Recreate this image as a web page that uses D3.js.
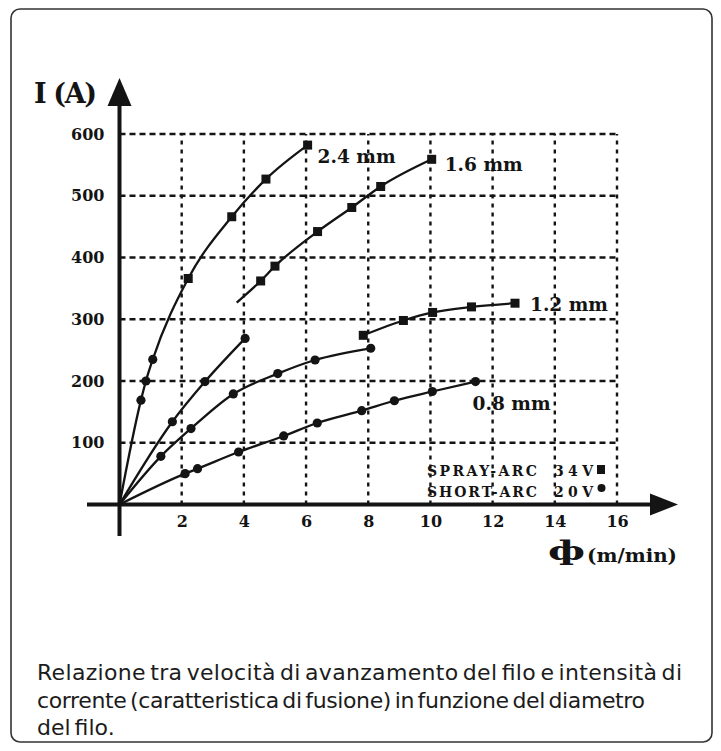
<!DOCTYPE html>
<html><head><meta charset="utf-8">
<script src="https://cdn.jsdelivr.net/npm/d3@7"></script>
<style>
html,body{margin:0;padding:0;background:#fff;}
svg{display:block;}
</style></head><body>
<svg id="chart" width="721" height="751"></svg>
<script>
// ---- data ----
const xTicks = [2, 4, 6, 8, 10, 12, 14, 16];
const yTicks = [100, 200, 300, 400, 500, 600];
const diameters = ["2.4 mm", "1.6 mm", "1.2 mm", "0.8 mm"];

// SHORT-ARC 20V (circles) and SPRAY-ARC 34V (squares), x = wire speed (m/min), y = current (A)
const short24X = [0.69, 0.85, 1.07];
const short24Y = [169, 200, 235];
const spray24X = [2.21, 3.61, 4.71, 6.05];
const spray24Y = [366, 466, 527, 582];

const short16X = [1.70, 2.75, 4.04];
const short16Y = [134, 199, 269];
const spray16StartX = 3.77, spray16StartY = 327;
const spray16X = [4.54, 5.00, 6.37, 7.47, 8.40, 10.04];
const spray16Y = [362, 386, 442, 481, 515, 559];

const short12X = [1.33, 2.30, 3.66, 5.09, 6.29, 8.08];
const short12Y = [78, 123, 179, 212, 234, 253];
const spray12X = [7.84, 9.13, 10.07, 11.32, 12.72];
const spray12Y = [274, 298, 311, 320, 326];

const short08X = [2.11, 2.51, 3.83, 5.28, 6.36, 7.79, 8.84, 10.06, 11.45];
const short08Y = [50, 58, 85, 111, 132, 152, 168, 183, 199];

const legendNames = ["SPRAY-ARC", "SHORT-ARC"];
const legendVolts = ["34V", "20V"];
const captionLines = [
  "Relazione tra velocità di avanzamento del filo e intensità di",
  "corrente (caratteristica di fusione) in funzione del diametro",
  "del filo."
];

// ---- helpers ----
const zip = (xs, ys) => xs.map((v, i) => [v, ys[i]]);
const origin = [[0, 0]];

const svg = d3.select("#chart");
const ink = "#141414";
const serif = "'DejaVu Serif', serif";

// frame
svg.append("rect").attr("x", 11).attr("y", 9).attr("width", 701).attr("height", 733)
  .attr("rx", 9).attr("ry", 9).attr("fill", "none").attr("stroke", "#333").attr("stroke-width", 1.6);

const x = d3.scaleLinear().domain([0, 16]).range([119.5, 617]);
const y = d3.scaleLinear().domain([0, 600]).range([504.5, 134]);

// grid
const grid = svg.append("g");
grid.selectAll("line.h").data(yTicks).join("line").attr("class", "h")
  .attr("x1", x(0)).attr("x2", x(16)).attr("y1", d => y(d)).attr("y2", d => y(d))
  .attr("stroke", ink).attr("stroke-width", 2.4).attr("stroke-dasharray", "6,4");
grid.selectAll("line.v").data(xTicks).join("line").attr("class", "v")
  .attr("x1", d => x(d)).attr("x2", d => x(d)).attr("y1", y(0)).attr("y2", y(600))
  .attr("stroke", ink).attr("stroke-width", 2.4).attr("stroke-dasharray", "4,5");

// axes lines + arrows
const x0 = x(0), y0 = y(0);
svg.append("line").attr("x1", x0).attr("x2", x0).attr("y1", 104).attr("y2", 536)
  .attr("stroke", ink).attr("stroke-width", 4);
svg.append("path").attr("d", `M${x0 - 12},106 L${x0 + 12},106 L${x0},78 Z`).attr("fill", ink);
svg.append("line").attr("x1", 87).attr("x2", 652).attr("y1", y0).attr("y2", y0)
  .attr("stroke", ink).attr("stroke-width", 4);
svg.append("path").attr("d", `M650,${y0 - 11} L650,${y0 + 11} L678,${y0} Z`).attr("fill", ink);

// tick labels
const gx = svg.append("g").attr("transform", `translate(0,${y0})`)
  .call(d3.axisBottom(x).tickValues(xTicks).tickSize(0).tickPadding(11));
const gy = svg.append("g").attr("transform", `translate(${x0},0)`)
  .call(d3.axisLeft(y).tickValues(yTicks).tickSize(0).tickPadding(15));
[gx, gy].forEach(g => {
  g.select(".domain").remove();
  g.selectAll("text").attr("font-family", serif).attr("font-weight", "bold")
    .attr("font-size", 16).attr("fill", ink);
});

// axis titles
svg.append("text").attr("x", 34).attr("y", 103).attr("font-family", serif).attr("font-weight", "bold")
  .attr("font-size", 27).attr("fill", ink).attr("textLength", 63).attr("lengthAdjust", "spacing").text("I (A)");
svg.append("text").attr("x", 548).attr("y", 560).attr("font-family", serif).attr("font-weight", "bold")
  .attr("font-size", 26).attr("fill", ink).attr("textLength", 37).attr("lengthAdjust", "spacingAndGlyphs").text("ф");
svg.append("text").attr("x", 587).attr("y", 562).attr("font-family", serif).attr("font-weight", "bold")
  .attr("font-size", 18).attr("fill", ink).attr("textLength", 90).attr("lengthAdjust", "spacingAndGlyphs").text("(m/min)");

// curves
const line = d3.line().x(d => x(d[0])).y(d => y(d[1])).curve(d3.curveMonotoneX);
const curves = [
  origin.concat(zip(short24X, short24Y), zip(spray24X, spray24Y)),
  origin.concat(zip(short16X, short16Y)),
  [[spray16StartX, spray16StartY]].concat(zip(spray16X, spray16Y)),
  origin.concat(zip(short12X, short12Y)),
  zip(spray12X, spray12Y),
  origin.concat(zip(short08X, short08Y))
];
svg.append("g").selectAll("path").data(curves).join("path")
  .attr("d", line).attr("fill", "none").attr("stroke", ink).attr("stroke-width", 2.3);

const circles = [].concat(zip(short24X, short24Y), zip(short16X, short16Y), zip(short12X, short12Y), zip(short08X, short08Y));
const squares = [].concat(zip(spray24X, spray24Y), zip(spray16X, spray16Y), zip(spray12X, spray12Y));
svg.append("g").selectAll("circle").data(circles).join("circle")
  .attr("cx", d => x(d[0])).attr("cy", d => y(d[1])).attr("r", 4.6).attr("fill", ink);
const s = 9;
svg.append("g").selectAll("rect").data(squares).join("rect")
  .attr("x", d => x(d[0]) - s / 2).attr("y", d => y(d[1]) - s / 2).attr("width", s).attr("height", s).attr("fill", ink);

// diameter labels, anchored to each curve's last point
const ends = [
  [spray24X[3], spray24Y[3], 10, 18],
  [spray16X[5], spray16Y[5], 13, 12],
  [spray12X[4], spray12Y[4], 15, 8],
  [short08X[8], short08Y[8], -3, 28]
];
svg.append("g").selectAll("text").data(ends).join("text")
  .attr("x", d => x(d[0]) + d[2]).attr("y", d => y(d[1]) + d[3])
  .attr("font-family", serif).attr("font-weight", "bold").attr("font-size", 19).attr("fill", ink)
  .attr("textLength", 78).attr("lengthAdjust", "spacingAndGlyphs")
  .text((d, i) => diameters[i]);

// legend
const lg = svg.append("g");
legendNames.forEach((n, i) => {
  const by = 476 + i * 20.5;
  lg.append("text").attr("x", 427).attr("y", by).attr("font-family", serif).attr("font-weight", "bold")
    .attr("font-size", 14).attr("fill", ink).attr("textLength", 110).attr("lengthAdjust", "spacing").text(n);
  lg.append("text").attr("x", 554).attr("y", by).attr("font-family", serif).attr("font-weight", "bold")
    .attr("font-size", 14).attr("fill", ink).attr("textLength", 39).attr("lengthAdjust", "spacing").text(legendVolts[i]);
});
lg.append("rect").attr("x", 597).attr("y", 465).attr("width", 8).attr("height", 9).attr("fill", ink);
lg.append("circle").attr("cx", 601.5).attr("cy", 488).attr("r", 4).attr("fill", ink);

// caption: fit font size to the target line width with tight word spacing
const capW = [645, 608, null];
const capFont = "'DejaVu Sans', 'Open Sans', sans-serif";
const ws = -3;
const cap = svg.append("g");
const probe = cap.append("text").attr("font-family", capFont).attr("font-size", 20)
  .attr("word-spacing", ws).text(captionLines[0]);
const natural = probe.node().getComputedTextLength();
probe.remove();
const capSize = Math.min(22, 20 * capW[0] / natural);
captionLines.forEach((t, i) => {
  const tx = cap.append("text").attr("x", 37).attr("y", 680 + i * 27.5)
    .attr("font-family", capFont).attr("font-size", capSize).attr("word-spacing", ws)
    .attr("fill", "#1c1c1c").text(t);
  if (capW[i]) tx.attr("textLength", capW[i]).attr("lengthAdjust", "spacing");
});
</script>
</body></html>
